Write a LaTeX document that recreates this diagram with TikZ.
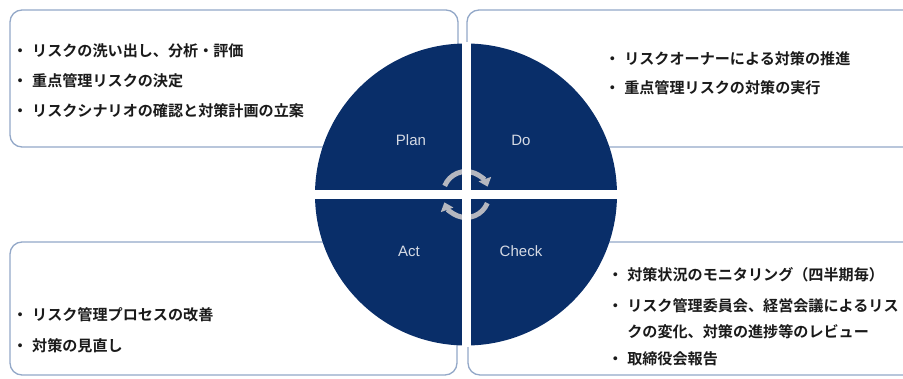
\documentclass[tikz,border=0pt]{standalone}
\usepackage{fontspec}
\usetikzlibrary{arrows.meta}
\newfontfamily\jpfont{Noto Sans CJK JP Bold}
\newfontfamily\lblfont{Liberation Sans}
\definecolor{pdcanavy}{HTML}{092E69}
\definecolor{boxline}{HTML}{93A8C8}
\definecolor{cyclegray}{HTML}{B5B7BF}
\definecolor{lblgray}{HTML}{D5DAE4}
\definecolor{itemtext}{HTML}{1A1A1A}
\newcommand{\itm}{\makebox[19.5pt][l]{・}}

\begin{document}
\begin{tikzpicture}[x=1pt, y=1pt,
    box/.style={draw=boxline, line width=1.3pt, fill=white, rounded corners=12pt},
    quadlbl/.style={font=\lblfont\fontsize{15}{18}\selectfont, text=lblgray},
    item/.style={anchor=base west, inner sep=0pt, font=\jpfont\fontsize{15.1}{18}\selectfont, text=itemtext},
    cyclearrow/.style={draw=cyclegray, line width=5pt, -{Triangle[width=13pt,length=8pt]}},
    crossgap/.style={draw=white, line width=9pt}]
    \clip (0,0) rectangle (903,378);

    % boxes
    \draw[box] (10,231) rectangle (458,368);
    \draw[box] (467,231) rectangle (940,368);
    \draw[box] (10,3) rectangle (457,136);
    \draw[box] (468,3) rectangle (940,136);

    % circle
    \coordinate (ctr) at (466,183.5);
    \fill[pdcanavy] (ctr) circle[radius=151];
    \draw[cyclearrow] ([shift={(158:23)}]ctr) arc[start angle=158, end angle=20, radius=23];
    \draw[cyclearrow] ([shift={(-22:23)}]ctr) arc[start angle=-22, end angle=-160, radius=23];
    \coordinate (ctop) at (466,336);
    \coordinate (cbot) at (466,31);
    \coordinate (cleft) at (313,183.5);
    \coordinate (cright) at (619,183.5);
    \draw[crossgap] (ctop) -- (cbot);
    \draw[crossgap] (cleft) -- (cright);

    \node[quadlbl] (plan) at (411,238) {Plan};
    \node[quadlbl] (do) at (521,238) {Do};
    \node[quadlbl] (act) at (409,127) {Act};
    \node[quadlbl] (check) at (521,127) {Check};

    % items
    \node[item] (tl1) at (12.5,321.4) {\itm リスクの洗い出し、分析・評価};
    \node[item] (tl2) at (12.5,291.4) {\itm 重点管理リスクの決定};
    \node[item] (tl3) at (12.5,261.4) {\itm リスクシナリオの確認と対策計画の立案};

    \node[item] (tr1) at (604.6,313.4) {\itm リスクオーナーによる対策の推進};
    \node[item] (tr2) at (604.6,284.4) {\itm 重点管理リスクの対策の実行};

    \node[item] (bl1) at (12.5,57.4) {\itm リスク管理プロセスの改善};
    \node[item] (bl2) at (12.5,26.4) {\itm 対策の見直し};

    \node[item] (br1) at (607.6,97.4) {\itm 対策状況のモニタリング（四半期毎）};
    \node[item] (br2) at (607.6,66.4) {\itm リスク管理委員会、経営会議によるリス};
    \node[item] (br3) at (627.1,40.4) {クの変化、対策の進捗等のレビュー};
    \node[item] (br4) at (607.6,13.4) {\itm 取締役会報告};
\end{tikzpicture}
\end{document}
